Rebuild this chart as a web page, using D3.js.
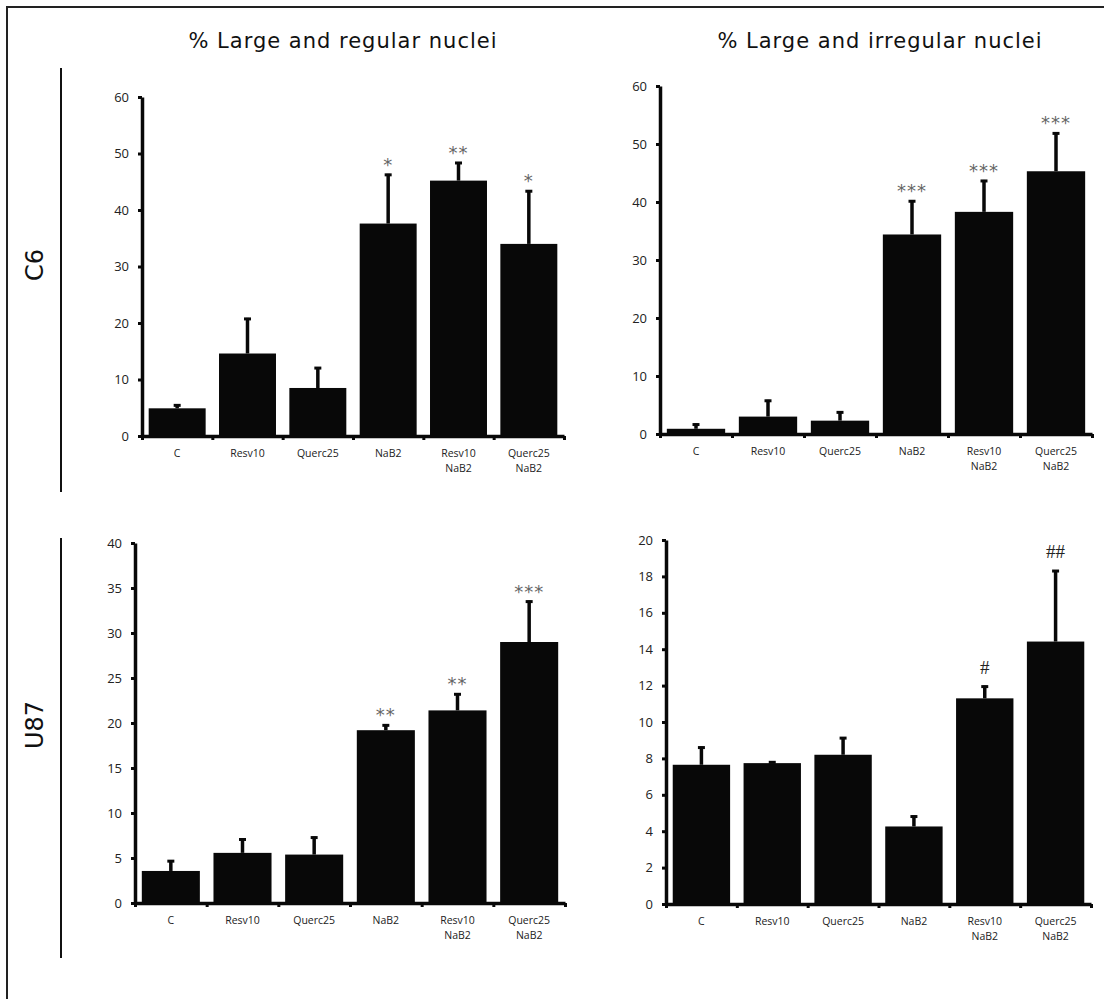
<!DOCTYPE html>
<html lang="en">
<head>
  <meta charset="UTF-8">
  <title>Nuclei morphology</title>
  <script src="https://cdn.jsdelivr.net/npm/d3@7"></script>
  <style>
    body { margin: 0; background: #fff; }
  </style>
</head>
<body>
  <svg id="svg" width="1104" height="999"></svg>

  <script>
    // Categories (multi-line labels)
    const categories = [["C"], ["Resv10"], ["Querc25"], ["NaB2"], ["Resv10", "NaB2"], ["Querc25", "NaB2"]]

    // C6 - large and regular nuclei
    const c6RegularMean = [4.9, 14.6, 8.5, 37.6, 45.2, 34.0]
    const c6RegularErr = [0.7, 6.3, 3.7, 8.8, 3.3, 9.5]
    const c6RegularSig = ["", "", "", "*", "**", "*"]

    // C6 - large and irregular nuclei
    const c6IrregularMean = [0.9, 3.0, 2.3, 34.4, 38.3, 45.3]
    const c6IrregularErr = [0.9, 2.9, 1.6, 5.9, 5.5, 6.7]
    const c6IrregularSig = ["", "", "", "***", "***", "***"]

    // U87 - large and regular nuclei
    const u87RegularMean = [3.56, 5.57, 5.38, 19.2, 21.4, 29.0]
    const u87RegularErr = [1.2, 1.6, 2.0, 0.65, 1.9, 4.6]
    const u87RegularSig = ["", "", "", "**", "**", "***"]

    // U87 - large and irregular nuclei
    const u87IrregularMean = [7.65, 7.74, 8.2, 4.26, 11.3, 14.42]
    const u87IrregularErr = [1.0, 0.1, 0.97, 0.6, 0.7, 3.93]
    const u87IrregularSig = ["", "", "", "", "#", "##"]

    const yMax = [60, 60, 40, 20]
    const yStep = [10, 10, 5, 2]

    const titles = ["% Large and regular nuclei", "% Large and irregular nuclei"]
    const rowLabels = ["C6", "U87"]

    const svg = d3.select("#svg")

    // outer frame (top and left edges visible)
    svg.append("path")
      .attr("d", "M7,999 L7,7 L1104,7")
      .attr("fill", "none")
      .attr("stroke", "#222")
      .attr("stroke-width", 2)

    // column titles
    svg.selectAll(".title")
      .data(titles)
      .enter()
      .append("text")
      .attr("x", (d, i) => i === 0 ? 343 : 880)
      .attr("y", 48)
      .attr("text-anchor", "middle")
      .style("font-family", "DejaVu Sans")
      .style("font-size", "21px")
      .style("letter-spacing", "1px")
      .attr("fill", "#111")
      .text(d => d)

    // row labels and their vertical rules
    const rows = [{ cy: 265, y1: 68, y2: 492 }, { cy: 725, y1: 538, y2: 958 }]
    rows.forEach((r, i) => {
      svg.append("line")
        .attr("x1", 61).attr("x2", 61)
        .attr("y1", r.y1).attr("y2", r.y2)
        .attr("stroke", "#111").attr("stroke-width", 2)
      svg.append("text")
        .attr("transform", `translate(43, ${r.cy}) rotate(-90)`)
        .attr("text-anchor", "middle")
        .style("font-family", "DejaVu Sans")
        .style("font-size", "24px")
        .attr("fill", "#111")
        .text(rowLabels[i])
    })

    const panels = [
      { mean: c6RegularMean, err: c6RegularErr, sig: c6RegularSig, x0: 142, x1: 564, yTop: 97, yBot: 436 },
      { mean: c6IrregularMean, err: c6IrregularErr, sig: c6IrregularSig, x0: 660, x1: 1092, yTop: 86, yBot: 434 },
      { mean: u87RegularMean, err: u87RegularErr, sig: u87RegularSig, x0: 135, x1: 565, yTop: 543, yBot: 903 },
      { mean: u87IrregularMean, err: u87IrregularErr, sig: u87IrregularSig, x0: 666, x1: 1091, yTop: 540, yBot: 904 }
    ]

    panels.forEach((p, pi) => {
      const g = svg.append("g")

      const xscale = d3.scaleBand()
        .domain(d3.range(categories.length))
        .range([p.x0, p.x1])
        .paddingInner(0.19)
        .paddingOuter(0.095)

      const yscale = d3.scaleLinear()
        .domain([0, yMax[pi]])
        .range([p.yBot, p.yTop])

      // bars
      g.selectAll("rect")
        .data(p.mean)
        .enter()
        .append("rect")
        .attr("x", (d, i) => xscale(i))
        .attr("y", d => yscale(d))
        .attr("width", xscale.bandwidth())
        .attr("height", d => yscale(0) - yscale(d))
        .attr("fill", "#080808")

      // error bars (upper only)
      const cx = i => xscale(i) + xscale.bandwidth() / 2
      g.selectAll(".err")
        .data(p.mean)
        .enter()
        .append("line")
        .attr("x1", (d, i) => cx(i))
        .attr("x2", (d, i) => cx(i))
        .attr("y1", d => yscale(d))
        .attr("y2", (d, i) => yscale(d + p.err[i]))
        .attr("stroke", "#080808")
        .attr("stroke-width", 3.5)
      g.selectAll(".cap")
        .data(p.mean)
        .enter()
        .append("line")
        .attr("x1", (d, i) => cx(i) - 3.5)
        .attr("x2", (d, i) => cx(i) + 3.5)
        .attr("y1", (d, i) => yscale(d + p.err[i]) + 1)
        .attr("y2", (d, i) => yscale(d + p.err[i]) + 1)
        .attr("stroke", "#080808")
        .attr("stroke-width", 3)

      // significance marks
      g.selectAll(".sig")
        .data(p.sig)
        .enter()
        .append("text")
        .attr("x", (d, i) => cx(i))
        .attr("y", (d, i) => yscale(p.mean[i] + p.err[i]) - (d.startsWith("#") ? 12 : 3))
        .attr("text-anchor", "middle")
        .style("font-family", d => d.startsWith("#") ? "Liberation Serif" : "DejaVu Sans")
        .style("font-size", d => d.startsWith("#") ? "19px" : "18px")
        .style("letter-spacing", d => d.startsWith("#") ? "0px" : "1px")
        .attr("fill", d => d.startsWith("#") ? "#222" : "#666")
        .text(d => d)

      // y axis
      const yAxis = g.append("g")
        .attr("transform", `translate(${p.x0}, 0)`)
        .call(d3.axisLeft(yscale)
          .tickValues(d3.range(0, yMax[pi] + yStep[pi] / 2, yStep[pi]))
          .tickSize(4)
          .tickSizeOuter(0))
      yAxis.select(".domain").attr("stroke-width", 3.5).attr("stroke", "#080808")
      yAxis.selectAll(".tick line").attr("stroke-width", 3).attr("stroke", "#080808")
      yAxis.selectAll(".tick text")
        .attr("x", -13)
        .style("font-family", "Open Sans")
        .style("font-size", "13px")
        .attr("fill", "#222")

      // x axis line with ticks at band boundaries
      const edges = d3.scaleLinear().domain([0, categories.length]).range([p.x0, p.x1])
      const xAxis = g.append("g")
        .attr("transform", `translate(0, ${yscale(0)})`)
        .call(d3.axisBottom(edges)
          .tickValues(d3.range(categories.length + 1))
          .tickFormat("")
          .tickSize(4)
          .tickSizeOuter(0))
      xAxis.select(".domain").attr("stroke-width", 3.5).attr("stroke", "#080808")
      xAxis.selectAll(".tick line").attr("stroke-width", 3).attr("stroke", "#080808")

      // category labels
      const labels = g.selectAll(".cat")
        .data(categories)
        .enter()
        .append("text")
        .attr("y", yscale(0) + 21)
        .style("font-family", "Open Sans")
        .style("font-size", "10.5px")
        .attr("fill", "#222")
        .attr("text-anchor", "middle")
      labels.selectAll("tspan")
        .data(d => d)
        .enter()
        .append("tspan")
        .attr("x", function () {
          const i = categories.indexOf(d3.select(this.parentNode).datum())
          return cx(i)
        })
        .attr("dy", (d, j) => j === 0 ? 0 : 15)
        .text(d => d)
    })
  </script>
</body>
</html>
